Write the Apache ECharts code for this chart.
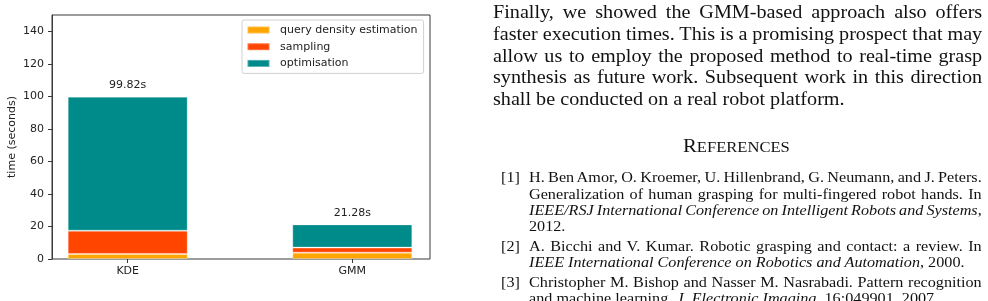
<!DOCTYPE html>
<html><head><meta charset="utf-8">
<script src="https://cdn.jsdelivr.net/npm/echarts@6/dist/echarts.min.js"></script>
<style>
html,body{margin:0;padding:0;background:#fff;}
#wrap{position:relative;width:988px;height:301px;overflow:hidden;background:#fff;}
#chart{position:absolute;left:0;top:0;width:988px;height:301px;}
#text{position:absolute;left:0;top:0;width:988px;height:301px;font-family:'Liberation Serif','Times New Roman',serif;color:#111;pointer-events:none;}
.ln{position:absolute;white-space:nowrap;transform-origin:0 0;}
</style></head><body>
<div id="wrap"><div id="chart"></div><div id="text"></div></div>
<script>
// ---- chart data ----
const categories = ['KDE', 'GMM'];
const seriesNames = ['query density estimation', 'sampling', 'optimisation'];
const queryDensity = [3.1, 3.9];
const sampling = [14.3, 3.1];
const optimisation = [82.42, 14.28];
const totalLabels = ['99.82s', '21.28s'];
const yTicks = [0, 20, 40, 60, 80, 100, 120, 140];
const yName = 'time (seconds)';

// ---- page text ----
const paraLines = [
  'Finally, we showed the GMM-based approach also offers',
  'faster execution times. This is a promising prospect that may',
  'allow us to employ the proposed method to real-time grasp',
  'synthesis as future work. Subsequent work in this direction',
  'shall be conducted on a real robot platform.'
];
const refHeadFirst = 'R';
const refHeadRest = 'EFERENCES';
const refLabels = ['[1]', '[2]', '[3]'];
const ref1Lines = [
  'H. Ben Amor, O. Kroemer, U. Hillenbrand, G. Neumann, and J. Peters.',
  'Generalization of human grasping for multi-fingered robot hands. In',
  '<i>IEEE/RSJ International Conference on Intelligent Robots and Systems</i>,',
  '2012.'
];
const ref2Lines = [
  'A. Bicchi and V. Kumar. Robotic grasping and contact: a review. In',
  '<i>IEEE International Conference on Robotics and Automation</i>, 2000.'
];
const ref3Lines = [
  'Christopher M. Bishop and Nasser M. Nasrabadi. Pattern recognition',
  'and machine learning. <i>J. Electronic Imaging</i>, 16:049901, 2007.'
];

// ---- chart ----
const font = 'DejaVu Sans';
const dark = '#3a3a3a';
const txt = '#222';
const colors = ['#FFA500', '#FF4500', '#008B8B'];
const chart = echarts.init(document.getElementById('chart'), null, {renderer: 'canvas'});
const values = [queryDensity, sampling, optimisation];
const option = {
  animation: false,
  textStyle: {fontFamily: font},
  grid: [
    {left: 52, top: 15, width: 378, height: 244, show: true, borderColor: dark, borderWidth: 1, backgroundColor: 'transparent'},
    {left: 15.4, top: 15, width: 449.2, height: 244, show: false}
  ],
  legend: {
    orient: 'vertical', left: 242, top: 20,
    padding: [4, 6, 4, 4.5], itemGap: 4.7, itemWidth: 22, itemHeight: 7,
    icon: 'rect', backgroundColor: '#fff', borderColor: '#d0d0d0', borderWidth: 1, borderRadius: 2,
    textStyle: {fontFamily: font, fontSize: 11, lineHeight: 12, color: txt, padding: [0, 0, 0, 5.6]},
    data: seriesNames
  },
  xAxis: [
    {gridIndex: 0, type: 'value', min: 0, max: 1, show: true,
     axisLine: {show: false}, axisTick: {show: false}, axisLabel: {show: false}, splitLine: {show: false}},
    {gridIndex: 1, type: 'category', data: categories, boundaryGap: true,
     axisLine: {show: false},
     axisTick: {show: true, alignWithLabel: true, length: 4, lineStyle: {color: dark}},
     axisLabel: {fontFamily: font, fontSize: 11, color: txt, margin: 7},
     splitLine: {show: false}}
  ],
  yAxis: [
    {gridIndex: 0, type: 'value', min: 0, max: 150,
     name: yName, nameLocation: 'middle', nameGap: 34, nameRotate: 90,
     nameTextStyle: {fontFamily: font, fontSize: 11, color: txt},
     axisLine: {show: true, lineStyle: {color: dark}},
     axisTick: {show: true, customValues: yTicks, length: 4, lineStyle: {color: dark}},
     axisLabel: {customValues: yTicks, fontFamily: font, fontSize: 11, color: txt, margin: 8},
     splitLine: {show: false}},
    {gridIndex: 1, type: 'value', min: 0, max: 150, show: false, splitLine: {show: false}}
  ],
  series: seriesNames.map((name, k) => ({
    name: name, type: 'bar', stack: 'total', xAxisIndex: 1, yAxisIndex: 1,
    barWidth: 120,
    itemStyle: {color: colors[k], borderColor: 'rgba(255,255,255,0.3)', borderWidth: 1},
    data: values[k],
    label: k === 2 ? {show: true, position: 'top', distance: 6,
      formatter: p => totalLabels[p.dataIndex], fontFamily: font, fontSize: 11, color: txt} : {show: false}
  }))
};
chart.setOption(option);

// ---- text column ----
const textEl = document.getElementById('text');
const ASC = 0.8375; // Liberation Serif baseline offset for line-height = 1em
function addLine(html, x, baseline, fs, sx, rightEdge) {
  const d = document.createElement('div');
  d.className = 'ln';
  d.innerHTML = html;
  d.style.fontSize = fs + 'px';
  d.style.lineHeight = fs + 'px';
  d.style.left = x + 'px';
  d.style.top = (baseline - ASC * fs) + 'px';
  d.style.transform = 'scaleX(' + sx + ')';
  textEl.appendChild(d);
  if (rightEdge) {
    const target = (rightEdge - x) / sx;
    const w = d.getBoundingClientRect().width / sx;
    const txtc = d.textContent;
    const n = (txtc.match(/ /g) || []).length;
    const extra = target - w;
    if (n) {
      let ws = extra / n;
      if (ws < -1) {
        const chars = txtc.length - 1;
        d.style.letterSpacing = ((extra + n) / chars) + 'px';
        ws = -1;
      }
      d.style.wordSpacing = ws + 'px';
    }
  }
  return d;
}
const RIGHT = 981.7;
const pFs = 18, pSx = 1.12, pX = 492.5, pB0 = 18.3, pStep = 21.7;
paraLines.forEach((l, i) => addLine(l, pX, pB0 + i * pStep, pFs, pSx, i < paraLines.length - 1 ? RIGHT : null));

// heading
const h = document.createElement('div');
h.className = 'ln';
h.innerHTML = '<span style="font-size:18.5px">' + refHeadFirst + '</span><span style="font-size:14.8px">' + refHeadRest + '</span>';
h.style.lineHeight = '18.5px';
h.style.top = (152.5 - ASC * 18.5) + 'px';
h.style.transform = 'scaleX(' + pSx + ')';
textEl.appendChild(h);
const hw = h.getBoundingClientRect().width;
h.style.left = (736 - hw / 2) + 'px';

const rFs = 14.5, rSx = 1.116, labX = 500.7, rX = 529, rStep = 16.3, rGap = 3.4;
let b = 182.5;
[ref1Lines, ref2Lines, ref3Lines].forEach((lines, e) => {
  addLine(refLabels[e], labX, b, rFs, rSx, null);
  lines.forEach((l, i) => {
    const isLast = i === lines.length - 1;
    addLine(l, rX, b, rFs, rSx, isLast ? null : RIGHT);
    b += rStep;
  });
  b += rGap;
});
</script>
</body></html>
